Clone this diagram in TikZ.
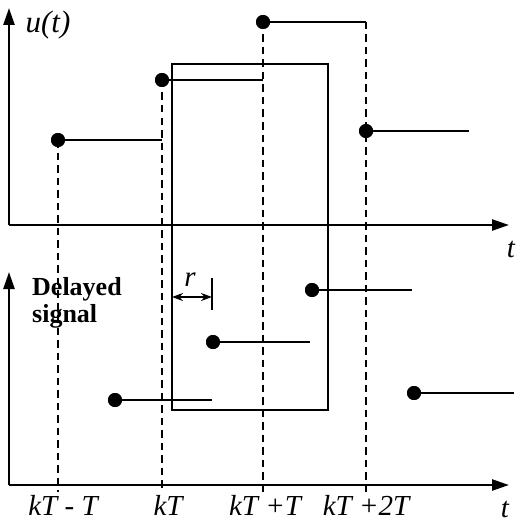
\documentclass[tikz,border=0pt]{standalone}
\usepackage{fontspec}
\setmainfont{Liberation Serif}
\usetikzlibrary{arrows.meta}
\begin{document}
\begin{tikzpicture}[x=1pt,y=-1pt,
 axis/.style={line width=2.4pt,-{Triangle[length=17pt,width=11pt]}},
 seg/.style={line width=2.2pt},
 guide/.style={line width=2.8pt,dash pattern=on 7.5pt off 5pt},
 dot/.style={circle,fill=black,inner sep=0pt,minimum size=14pt},
 boxline/.style={line width=1.9pt},
 lab/.style={font=\fontsize{29}{31}\selectfont\itshape, inner sep=0pt},
 bold/.style={font=\fontsize{26}{27}\selectfont\bfseries, inner sep=0pt, align=left}]
\useasboundingbox (0,0) rectangle (520,524);
% axes
\coordinate (o1) at (9,225); \coordinate (y1) at (9,8); \coordinate (x1) at (509,225);
\coordinate (o2) at (9,485); \coordinate (y2) at (9,272); \coordinate (x2) at (509,485);
% dot nodes
\node[dot] (A1) at (58,140) {};
\node[dot] (A2) at (162,80) {};
\node[dot] (A3) at (263,22) {};
\node[dot] (A4) at (366,131) {};
\node[dot] (B1) at (115,400) {};
\node[dot] (B2) at (213,342) {};
\node[dot] (B3) at (312,290) {};
\node[dot] (B4) at (414,393) {};
\coordinate (A1e) at (162,140);
\coordinate (A2e) at (263,80);
\coordinate (A3e) at (366,22);
\coordinate (A4e) at (469,131);
\coordinate (B1e) at (212,400);
\coordinate (B2e) at (310,342);
\coordinate (B3e) at (412,290);
\coordinate (B4e) at (514,393);
\coordinate (d1) at (58,492);
\coordinate (d2) at (162,492);
\coordinate (d3) at (263,492);
\coordinate (d4) at (366,492);
% dashed guides
\draw[guide] (A1.center) -- (d1);
\draw[guide] (A2.center) -- (d2);
\draw[guide] (A3.center) -- (d3);
\draw[guide] (A3e) -- (d4);
% box
\draw[boxline] (172,64) rectangle (328,410);
% axes
\draw[axis] (o1) -- (y1);
\draw[axis] (o1) -- (x1);
\draw[axis] (o2) -- (y2);
\draw[axis] (o2) -- (x2);
% hold segments
\draw[seg] (A1.center) -- (A1e);
\draw[seg] (A2.center) -- (A2e);
\draw[seg] (A3.center) -- (A3e);
\draw[seg] (A4.center) -- (A4e);
\draw[seg] (B1.center) -- (B1e);
\draw[seg] (B2.center) -- (B2e);
\draw[seg] (B3.center) -- (B3e);
\draw[seg] (B4.center) -- (B4e);
% redraw dots on top
\foreach \n in {A1,A2,A3,A4,B1,B2,B3,B4}{\fill (\n) circle (7pt);}
% r delay marker
\coordinate (rt) at (212,278); \coordinate (rb) at (212,310);
\coordinate (ra) at (172,297); \coordinate (rc) at (212,297);
\draw[line width=1.9pt] (rt) -- (rb);
\draw[line width=1.9pt,{Stealth[length=11pt,width=8pt]}-{Stealth[length=11pt,width=8pt]}] (ra) -- (rc);
\node[lab] (r) at (190,280) {r};
% labels
\node[lab,font=\fontsize{31}{33}\selectfont\itshape] (ut) at (48,25) {u(t)};
\node[lab,anchor=base] (t1) at (511,257) {t};
\node[lab,anchor=base] (t2) at (505,517) {t};
\node[bold,anchor=north west] (ds) at (32,277) {Delayed\\signal};
\node[lab,anchor=base] (k1) at (63,515) {kT - T};
\node[lab,anchor=base] (k2) at (168,515) {kT};
\node[lab,anchor=base] (k3) at (265,515) {kT +T};
\node[lab,anchor=base] (k4) at (366,515) {kT +2T};
\end{tikzpicture}
\end{document}
